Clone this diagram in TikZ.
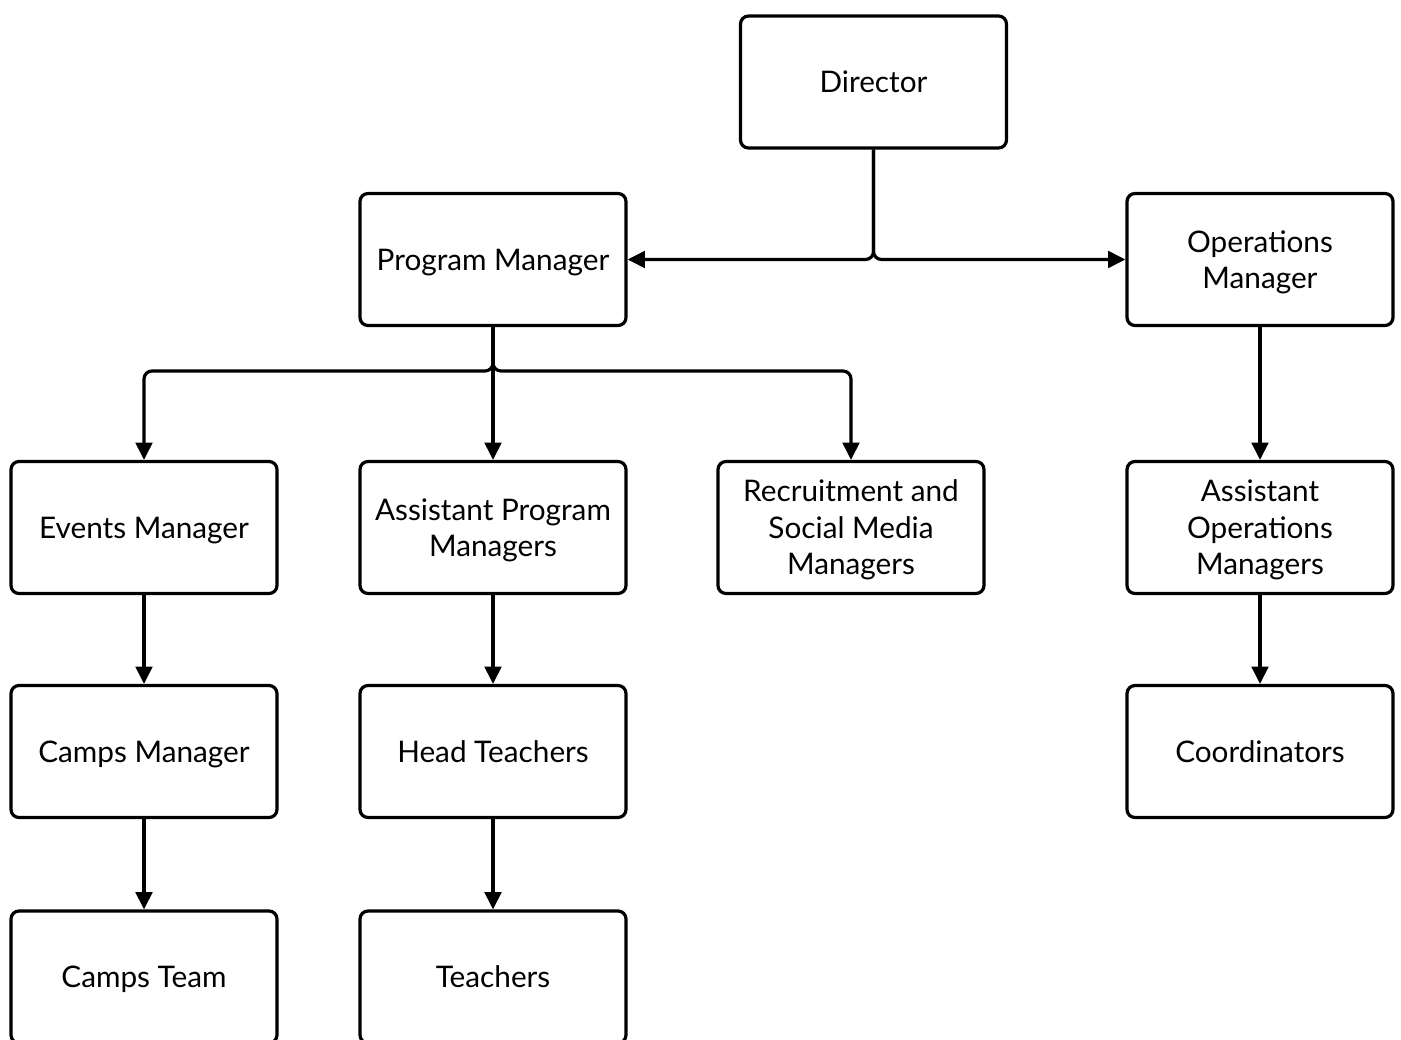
\documentclass[tikz,border=0pt]{standalone}
\usepackage{fontspec}
\setmainfont{Lato}
\usetikzlibrary{arrows.meta}
\begin{document}
\begin{tikzpicture}[x=0.75pt,y=-0.75pt,
  box/.style={draw=black,line width=2.4pt,rounded corners=6pt,fill=white,
    minimum width=199.5pt,minimum height=99pt,inner sep=0pt,align=center,
    text depth=0pt,font=\fontsize{22.3}{27.4}\selectfont},
  conn/.style={line width=2.4pt,rounded corners=6pt,
    -{Triangle[length=13pt,width=12.5pt]}}]
\useasboundingbox (0,0) rectangle (1401,1039);
\clip (0,0) rectangle (1401,1039);
\fill[white] (0,0) rectangle (1401,1039);
\node[box] (D) at (873.5,82) {Director};
\node[box] (PM) at (493,259.5) {Program Manager};
\node[box] (OM) at (1260,259.5) {Operations\\Manager};
\node[box] (EM) at (144,527.5) {Events Manager};
\node[box] (APM) at (493,527.5) {Assistant Program\\Managers};
\node[box] (RS) at (851,527.5) {Recruitment and\\Social Media\\Managers};
\node[box] (AOM) at (1260,527.5) {Assistant\\Operations\\Managers};
\node[box] (CM) at (144,751.5) {Camps Manager};
\node[box] (HT) at (493,751.5) {Head Teachers};
\node[box] (CO) at (1260,751.5) {Coordinators};
\node[box] (CT) at (144,977) {Camps Team};
\node[box] (TE) at (493,977) {Teachers};
\draw[conn] (D.south) -- (873.5,259.5) -- (PM.east);
\draw[conn] (D.south) -- (873.5,259.5) -- (OM.west);
\draw[conn] (PM.south) -- (493,371) -| (EM.north);
\draw[conn] (PM.south) -- (493,371) -| (RS.north);
\draw[conn] (PM.south) -- (APM.north);
\draw[conn] (OM.south) -- (AOM.north);
\draw[conn] (EM.south) -- (CM.north);
\draw[conn] (CM.south) -- (CT.north);
\draw[conn] (APM.south) -- (HT.north);
\draw[conn] (HT.south) -- (TE.north);
\draw[conn] (AOM.south) -- (CO.north);
\end{tikzpicture}
\end{document}
